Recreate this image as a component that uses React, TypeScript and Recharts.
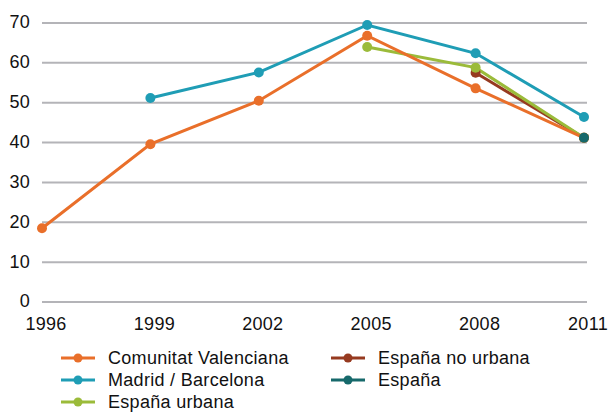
import { LineChart, Line, XAxis, YAxis, CartesianGrid, Legend } from 'recharts';

const years = ['1996', '1999', '2002', '2005', '2008', '2011'];
const valenciana = [18.5, 39.6, 50.5, 66.8, 53.6, 41.2];
const madridBarcelona = [null, 51.2, 57.6, 69.5, 62.4, 46.4];
const espanaUrbana = [null, null, null, 64.0, 58.8, 41.2];
const espanaNoUrbana = [null, null, null, null, 57.5, 41.2];
const espana = [null, null, null, null, null, 41.2];
const yTicks = [0, 10, 20, 30, 40, 50, 60, 70];

const data = years.map((year, i) => ({
  year,
  valenciana: valenciana[i],
  madrid: madridBarcelona[i],
  urbana: espanaUrbana[i],
  noUrbana: espanaNoUrbana[i],
  espana: espana[i],
}));

// legend order is column-wise: left column first, then right column
const series = [
  { key: 'valenciana', name: 'Comunitat Valenciana', color: '#e96f2a' },
  { key: 'madrid', name: 'Madrid / Barcelona', color: '#1f9db5' },
  { key: 'urbana', name: 'España urbana', color: '#9bbb3a' },
  { key: 'noUrbana', name: 'España no urbana', color: '#963a20' },
  { key: 'espana', name: 'España', color: '#16696b' },
];

// drawing order (last on top)
const drawOrder = ['madrid', 'noUrbana', 'urbana', 'valenciana', 'espana'];

const font = '"Liberation Sans", Arial, sans-serif';

const ChartLegend = () => (
  <div
    style={{
      display: 'grid',
      gridTemplateColumns: '270px auto',
      gridTemplateRows: 'repeat(3, 22px)',
      gridAutoFlow: 'column',
      paddingLeft: 61,
      paddingTop: 5,
      fontFamily: font,
      fontSize: 18,
      letterSpacing: 0.3,
      color: '#111',
    }}
  >
    {series.map((s) => (
      <div key={s.key} style={{ display: 'flex', alignItems: 'center', height: 22 }}>
        <svg width={34} height={10} style={{ display: 'block' }}>
          <line x1={0} y1={5} x2={34} y2={5} stroke={s.color} strokeWidth={3} />
          <circle cx={17} cy={5} r={4.5} fill={s.color} />
        </svg>
        <span style={{ marginLeft: 13, lineHeight: '22px' }}>{s.name}</span>
      </div>
    ))}
  </div>
);

export default function App() {
  return (
    <div style={{ position: 'absolute', left: 0, top: 0, width: 608, height: 412, background: '#fff' }}>
      <LineChart
        width={608}
        height={412}
        data={data}
        margin={{ top: 23, right: 21, left: 0, bottom: 0 }}
      >
        <CartesianGrid vertical={false} stroke="#b4b4b8" strokeWidth={2} />
        <XAxis
          dataKey="year"
          axisLine={false}
          tickLine={false}
          tickSize={6}
          tickMargin={9}
          height={40}
          padding={{ left: 0, right: 3 }}
          interval={0}
          tick={{ fill: '#111', fontSize: 18, fontFamily: font, letterSpacing: 0.3, dx: 4 }}
        />
        <YAxis
          domain={[0, 70]}
          ticks={yTicks}
          axisLine={false}
          tickLine={false}
          tickSize={10}
          tickMargin={2}
          width={42}
          tick={{ fill: '#111', fontSize: 18, fontFamily: font, letterSpacing: 0.3, dy: -1 }}
        />
        <Legend verticalAlign="bottom" height={70} content={() => <ChartLegend />} />
        {drawOrder.map((key) => {
          const s = series.find((x) => x.key === key)!;
          return (
            <Line
              key={s.key}
              dataKey={s.key}
              name={s.name}
              stroke={s.color}
              strokeWidth={3}
              type="linear"
              dot={{ r: 5, fill: s.color, stroke: s.color, strokeWidth: 0 }}
              activeDot={false}
              isAnimationActive={false}
            />
          );
        })}
      </LineChart>
    </div>
  );
}
